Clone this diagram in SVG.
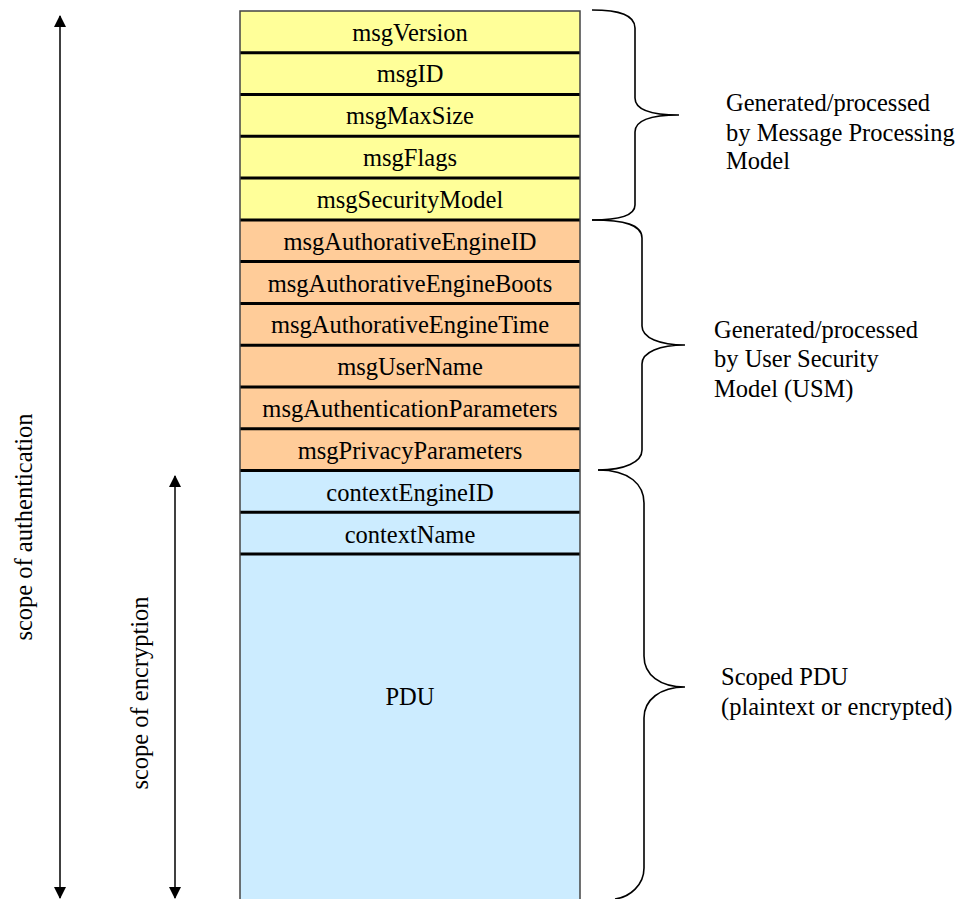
<svg xmlns="http://www.w3.org/2000/svg" width="962" height="899" viewBox="0 0 962 899">
<style>
text{font-family:"Liberation Serif","Times New Roman",serif;font-size:24.5px;fill:#000}
.c{text-anchor:middle}
.y{fill:#FFFF99}.o{fill:#FFCC99}.b{fill:#CCECFF}
.div{stroke:#000;stroke-width:3}
.brace{fill:none;stroke:#000;stroke-width:1.6}
.arr{stroke:#000;stroke-width:1.5}
</style>
<defs>
<marker id="ah" viewBox="0 0 12 12" refX="11" refY="6" markerWidth="12" markerHeight="12" markerUnits="userSpaceOnUse" orient="auto">
<path d="M0,0 L12,6 L0,12 z" fill="#000"/>
</marker>
</defs>
<g id="table">
<rect class="y" x="240" y="11" width="340" height="209"/>
<rect class="o" x="240" y="220" width="340" height="251"/>
<rect class="b" x="240" y="471" width="340" height="440"/>
<g id="dividers">
<line class="div" x1="240" y1="52.8" x2="580" y2="52.8"/>
<line class="div" x1="240" y1="94.5" x2="580" y2="94.5"/>
<line class="div" x1="240" y1="136.3" x2="580" y2="136.3"/>
<line class="div" x1="240" y1="178.1" x2="580" y2="178.1"/>
<line class="div" x1="240" y1="219.9" x2="580" y2="219.9"/>
<line class="div" x1="240" y1="261.6" x2="580" y2="261.6"/>
<line class="div" x1="240" y1="303.4" x2="580" y2="303.4"/>
<line class="div" x1="240" y1="345.2" x2="580" y2="345.2"/>
<line class="div" x1="240" y1="386.9" x2="580" y2="386.9"/>
<line class="div" x1="240" y1="428.7" x2="580" y2="428.7"/>
<line class="div" x1="240" y1="470.5" x2="580" y2="470.5"/>
<line class="div" x1="240" y1="512.3" x2="580" y2="512.3"/>
<line class="div" x1="240" y1="554" x2="580" y2="554"/>
</g>
<path d="M240,911 V11 H580 V911" fill="none" stroke="#444" stroke-width="1.5"/>
</g>
<g id="rows">
<text class="c" x="410" y="41">msgVersion</text>
<text class="c" x="410" y="82">msgID</text>
<text class="c" x="410" y="124">msgMaxSize</text>
<text class="c" x="410" y="166">msgFlags</text>
<text class="c" x="410" y="208">msgSecurityModel</text>
<text class="c" x="410" y="250">msgAuthorativeEngineID</text>
<text class="c" x="410" y="292">msgAuthorativeEngineBoots</text>
<text class="c" x="410" y="333">msgAuthorativeEngineTime</text>
<text class="c" x="410" y="375">msgUserName</text>
<text class="c" x="410" y="417">msgAuthenticationParameters</text>
<text class="c" x="410" y="459">msgPrivacyParameters</text>
<text class="c" x="410" y="501">contextEngineID</text>
<text class="c" x="410" y="543">contextName</text>
<text class="c" x="410" y="705">PDU</text>
</g>
<g id="braces">
<path class="brace" d="M592,10 C620,10 635,15 635,28 V98 C635,110 650,115 679,115 C650,115 635,120 635,132 V205 C635,215 620,220 592,220"/>
<path class="brace" d="M592,220 C625,220 642,225 642,238 V326 C642,338 660,345 685,345 C660,345 642,352 642,364 V450 C642,462 625,470 598,470"/>
<path class="brace" d="M598,470 C630,470 644,485 644,503 V656 C644,675 660,687 685,687 C660,687 644,700 644,718 V868 C644,885 630,897 615,899"/>
</g>
<g id="labels">
<text x="726" y="111">Generated/processed</text>
<text x="726" y="141">by Message Processing</text>
<text x="726" y="169">Model</text>
<text x="714" y="338">Generated/processed</text>
<text x="714" y="367">by User Security</text>
<text x="714" y="397">Model (USM)</text>
<text x="721" y="685">Scoped PDU</text>
<text x="721" y="715">(plaintext or encrypted)</text>
<text class="c" transform="translate(32,527) rotate(-90)">scope of authentication</text>
<text class="c" transform="translate(148,693) rotate(-90)">scope of encryption</text>
</g>
<g id="connectors">
<line class="arr" x1="60" y1="460" x2="60" y2="16" marker-end="url(#ah)"/>
<line class="arr" x1="60" y1="460" x2="60" y2="898" marker-end="url(#ah)"/>
<line class="arr" x1="175" y1="690" x2="175" y2="476" marker-end="url(#ah)"/>
<line class="arr" x1="175" y1="690" x2="175" y2="898" marker-end="url(#ah)"/>
</g>
</svg>
